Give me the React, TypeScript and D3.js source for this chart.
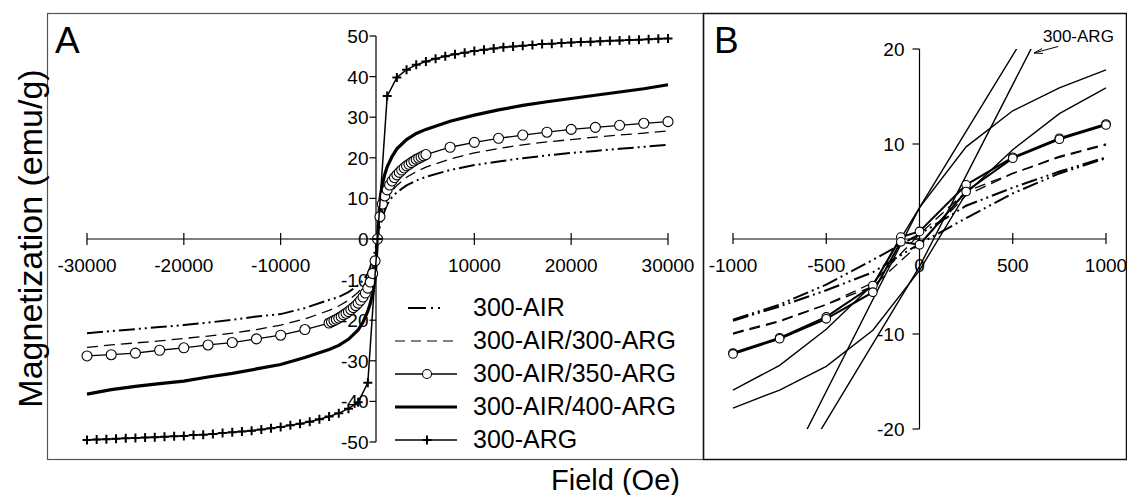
import React from 'react';
import * as d3 from 'd3';

// Panel A: full loop, -30000..30000 Oe
const FIELD_A = [-30000, -27500, -25000, -22500, -20000, -17500, -15000, -12500, -10000, -7500, -5000, -4000, -3000, -2000, -1500, -1000, -750, -500, -250, 0, 250, 500, 750, 1000, 1500, 2000, 3000, 4000, 5000, 7500, 10000, 12500, 15000, 17500, 20000, 22500, 25000, 27500, 30000];
const AIR_A = [-23.2, -22.7, -22.2, -21.7, -21.2, -20.6, -19.9, -19.1, -18.5, -17.0, -15.0, -14.3, -13.1, -11.4, -10.2, -8.5, -6.9, -5.0, -2.9, 0, 3.0, 5.0, 7.0, 8.5, 10.3, 11.5, 13.2, 14.4, 15.3, 17.0, 18.2, 19.1, 19.9, 20.6, 21.2, 21.7, 22.2, 22.7, 23.2];
const ARG300_A = [-26.7, -26.1, -25.6, -25.1, -24.5, -23.9, -23.2, -22.3, -21.2, -19.7, -17.6, -16.5, -15.1, -13.1, -11.7, -9.9, -8.6, -6.9, -4.9, 0, 4.9, 6.9, 8.6, 9.9, 11.8, 13.2, 15.2, 16.6, 17.7, 19.7, 21.2, 22.3, 23.2, 23.9, 24.5, 25.1, 25.6, 26.1, 26.6];
const ARG400_A = [-38.2, -37.1, -36.3, -35.6, -35.0, -34.0, -33.1, -32.0, -30.9, -29.2, -27.2, -26.2, -24.7, -22.4, -20.5, -17.8, -15.9, -13.5, -9.7, 0, 9.7, 13.5, 15.9, 17.8, 20.3, 22.2, 24.5, 26.0, 27.0, 29.0, 30.5, 31.8, 32.9, 33.8, 34.6, 35.4, 36.2, 37.0, 38.0];

const FIELD_A350 = [
  ...d3.range(-30000, -5000, 2500),
  ...d3.range(-5000, 5001, 250),
  ...d3.range(7500, 30001, 2500),
];
const ARG350_A = [
  -28.8, -28.5, -28.1, -27.4, -26.8, -26.1, -25.5, -24.6, -23.7, -22.3,
  -20.7, -20.4, -20.1, -19.8, -19.5, -19.1, -18.7, -18.3, -17.9, -17.4, -16.9, -16.4, -15.8, -15.1, -14.3, -13.3, -12.1, -10.6, -8.5, -5.4,
  0,
  5.5, 8.6, 10.6, 12.1, 13.3, 14.3, 15.1, 15.8, 16.4, 17.0, 17.5, 18.0, 18.4, 18.8, 19.2, 19.6, 19.9, 20.2, 20.5, 20.8,
  22.6, 23.8, 24.8, 25.6, 26.3, 27.0, 27.5, 28.0, 28.5, 28.9,
];

const FIELD_ARG_A = d3.range(-30000, 30001, 1000);
const ARG_A = [
  -49.5, -49.4, -49.3, -49.2, -49.1, -49.0, -48.9, -48.8, -48.7, -48.6, -48.5, -48.3, -48.2, -48.0, -47.8,
  -47.6, -47.4, -47.2, -46.9, -46.6, -46.3, -45.9, -45.5, -45.0, -44.4, -43.7, -42.9, -41.8, -40.2, -35.4,
  0,
  35.2, 39.8, 41.7, 42.9, 43.7, 44.4, 45.0, 45.5, 45.9, 46.3, 46.6, 46.9, 47.2, 47.4, 47.6,
  47.8, 48.0, 48.1, 48.3, 48.4, 48.5, 48.6, 48.7, 48.8, 48.9, 49.0, 49.1, 49.2, 49.3, 49.4,
];

// Panel B: low-field zoom, both branches
const FIELD_B = [-1000, -750, -500, -250, 0, 250, 500, 750, 1000];
const AIR_B_UP = [-8.5, -6.9, -4.8, -2.2, 0.5, 3.5, 5.4, 7.1, 8.6];
const AIR_B_DN = [-8.6, -7.1, -5.4, -3.5, -0.5, 2.2, 4.8, 6.9, 8.5];
const ARG300_B_UP = [-9.9, -8.6, -6.9, -4.6, 0.5, 5.0, 6.9, 8.7, 10.0];
const ARG300_B_DN = [-10.0, -8.7, -6.9, -5.0, -0.5, 4.6, 6.9, 8.6, 9.9];
const ARG400_B_UP = [-15.9, -13.3, -9.5, -4.8, 3.3, 9.7, 13.5, 15.9, 17.8];
const ARG400_B_DN = [-17.8, -15.9, -13.4, -9.6, -3.3, 4.8, 9.4, 13.2, 15.9];
const FIELD_B350 = [-1000, -750, -500, -250, -100, 0, 250, 500, 750, 1000];
const ARG350_B_UP = [-12.0, -10.4, -8.2, -4.9, 0.2, 0.8, 5.7, 8.6, 10.6, 12.1];
const ARG350_B_DN = [-12.1, -10.5, -8.4, -5.6, -0.3, -0.6, 5.0, 8.5, 10.5, 12.0];
const FIELD_B_ARG = [-1000, 0, 1000];
const ARG_B_UP = [-35.4, 3.3, 35.4];
const ARG_B_DN = [-35.4, -2.9, 35.4];

const X_TICKS_A = [-30000, -20000, -10000, 0, 10000, 20000, 30000];
const Y_TICKS_A = [50, 40, 30, 20, 10, 0, -10, -20, -30, -40, -50];
const X_TICKS_B = [-1000, -500, 0, 500, 1000];
const Y_TICKS_B = [20, 10, 0, -10, -20];

const LEGEND = ['300-AIR', '300-AIR/300-ARG', '300-AIR/350-ARG', '300-AIR/400-ARG', '300-ARG'];

const FONT = '"Liberation Sans", Arial, Helvetica, sans-serif';
const DASHDOT = '16,4,2,4,2,4';
const DASHED = '11,6';

const fx = d3.scaleLinear().domain([-30000, 30000]).range([87, 668]);
const fy = d3.scaleLinear().domain([-50, 50]).range([442, 36]);
const bx = d3.scaleLinear().domain([-1000, 1000]).range([733, 1106]);
const by = d3.scaleLinear().domain([-20, 20]).range([429, 49]);

const mkLine = (sx: any, sy: any) => (xs: number[], ys: number[]) =>
  d3.line()(xs.map((x, i) => [sx(x), sy(ys[i])] as [number, number])) || '';
const lineA = mkLine(fx, fy);
const lineB = mkLine(bx, by);

const PLUS = 'M-4.5,0H4.5M0,-4.5V4.5';

export default function App() {
  return (
    <svg width={1127} height={495} style={{ position: 'absolute', left: 0, top: 0, background: '#fff' }} fontFamily={FONT}>
      <defs>
        <clipPath id="clipB">
          <rect x={725} y={by(20)} width={390} height={by(-20) - by(20)} />
        </clipPath>
      </defs>
      <rect x={0} y={0} width={1127} height={495} fill="#fff" />

      {/* frames */}
      <rect x={47.5} y={13.5} width={656} height={446} fill="none" stroke="#555" strokeWidth={1.2} />
      <rect x={703.5} y={13.5} width={423} height={446} fill="none" stroke="#111" strokeWidth={1.5} />

      <text x={55} y={53} fontSize={37}>A</text>
      <text x={714} y={53} fontSize={37}>B</text>

      {/* ---- Panel A axes ---- */}
      <line x1={fx(-30000)} x2={fx(30000)} y1={fy(0)} y2={fy(0)} stroke="#000" strokeWidth={1.2} />
      <line x1={fx(0) - 1.5} x2={fx(0) - 1.5} y1={fy(50)} y2={fy(-50)} stroke="#000" strokeWidth={1.2} />
      {X_TICKS_A.map(t => (
        <g key={t}>
          <line x1={fx(t)} x2={fx(t)} y1={fy(0) - 6} y2={fy(0) + 6} stroke="#000" strokeWidth={1.2} />
          {t !== 0 && (
            <text x={fx(t)} y={272} fontSize={19} textAnchor="middle">{t}</text>
          )}
        </g>
      ))}
      {Y_TICKS_A.map(t => (
        <g key={t}>
          <line x1={fx(0) - 8} x2={fx(0) - 1.5} y1={fy(t)} y2={fy(t)} stroke="#000" strokeWidth={1.2} />
          <text x={fx(0) - 9} y={fy(t) + 7} fontSize={19} textAnchor="end">{t}</text>
        </g>
      ))}

      {/* ---- Panel A series ---- */}
      <path d={lineA(FIELD_A, AIR_A)} fill="none" stroke="#000" strokeWidth={2} strokeDasharray={DASHDOT} />
      <path d={lineA(FIELD_A, ARG300_A)} fill="none" stroke="#000" strokeWidth={1.3} strokeDasharray={DASHED} />
      <path d={lineA(FIELD_A, ARG400_A)} fill="none" stroke="#000" strokeWidth={3.2} />
      <path d={lineA(FIELD_A350, ARG350_A)} fill="none" stroke="#000" strokeWidth={1.3} />
      {FIELD_A350.map((f, i) => (
        <circle key={f} cx={fx(f)} cy={fy(ARG350_A[i])} r={5} fill="#fff" stroke="#000" strokeWidth={1.1} />
      ))}
      <path d={lineA(FIELD_ARG_A, ARG_A)} fill="none" stroke="#000" strokeWidth={1.5} />
      {FIELD_ARG_A.map((f, i) => (
        <path key={f} d={PLUS} transform={`translate(${fx(f)},${fy(ARG_A[i])})`} stroke="#000" strokeWidth={2} />
      ))}

      {/* ---- Legend ---- */}
      {LEGEND.map((name, i) => {
        const cy = 308 + i * 33;
        return (
          <g key={name}>
            {i === 0 && <line x1={408} x2={460} y1={cy} y2={cy} stroke="#000" strokeWidth={2.2} strokeDasharray="18,5,2,5,2,60" />}
            {i === 1 && <line x1={395} x2={457} y1={cy} y2={cy} stroke="#000" strokeWidth={1.2} strokeDasharray="10,6" />}
            {i === 2 && (
              <g>
                <line x1={395} x2={457} y1={cy} y2={cy} stroke="#000" strokeWidth={1.3} />
                <circle cx={427} cy={cy} r={4.5} fill="#fff" stroke="#000" strokeWidth={1.1} />
              </g>
            )}
            {i === 3 && <line x1={395} x2={457} y1={cy} y2={cy} stroke="#000" strokeWidth={3.2} />}
            {i === 4 && (
              <g>
                <line x1={395} x2={457} y1={cy} y2={cy} stroke="#000" strokeWidth={1.3} />
                <path d={PLUS} transform={`translate(427,${cy})`} stroke="#000" strokeWidth={2} />
              </g>
            )}
            <text x={473} y={cy + 8} fontSize={25}>{name}</text>
          </g>
        );
      })}

      {/* ---- Panel B axes ---- */}
      <line x1={bx(-1000)} x2={bx(1000)} y1={by(0)} y2={by(0)} stroke="#000" strokeWidth={1.2} />
      <line x1={bx(0)} x2={bx(0)} y1={by(20)} y2={by(-20)} stroke="#000" strokeWidth={1.2} />
      {X_TICKS_B.map(t => (
        <g key={t}>
          <line x1={bx(t)} x2={bx(t)} y1={by(0) - 6} y2={by(0) + 5} stroke="#000" strokeWidth={1.2} />
          <text x={bx(t)} y={272} fontSize={19} textAnchor="middle">{t}</text>
        </g>
      ))}
      {Y_TICKS_B.map(t => (
        <g key={t}>
          <line x1={bx(0) - 7} x2={bx(0)} y1={by(t)} y2={by(t)} stroke="#000" strokeWidth={1.2} />
          {t !== 0 && <text x={bx(0) - 15} y={by(t) + 7} fontSize={19} textAnchor="end">{t}</text>}
        </g>
      ))}

      {/* ---- Panel B series ---- */}
      <g clipPath="url(#clipB)" fill="none" stroke="#000">
        <path d={lineB(FIELD_B, AIR_B_UP)} strokeWidth={2} strokeDasharray={DASHDOT} />
        <path d={lineB(FIELD_B, AIR_B_DN)} strokeWidth={2} strokeDasharray={DASHDOT} />
        <path d={lineB(FIELD_B, ARG300_B_UP)} strokeWidth={1.3} strokeDasharray={DASHED} />
        <path d={lineB(FIELD_B, ARG300_B_DN)} strokeWidth={1.3} strokeDasharray={DASHED} />
        <path d={lineB(FIELD_B, ARG400_B_UP)} strokeWidth={1.4} />
        <path d={lineB(FIELD_B, ARG400_B_DN)} strokeWidth={1.4} />
        <path d={lineB(FIELD_B_ARG, ARG_B_UP)} strokeWidth={1.4} />
        <path d={lineB(FIELD_B_ARG, ARG_B_DN)} strokeWidth={1.4} />
        <path d={lineB(FIELD_B350, ARG350_B_UP)} strokeWidth={2} />
        <path d={lineB(FIELD_B350, ARG350_B_DN)} strokeWidth={2} />
      </g>
      {FIELD_B350.map((f, i) => (
        <g key={f}>
          <circle cx={bx(f)} cy={by(ARG350_B_UP[i])} r={4.3} fill="#fff" stroke="#000" strokeWidth={1.1} />
          <circle cx={bx(f)} cy={by(ARG350_B_DN[i])} r={4.3} fill="#fff" stroke="#000" strokeWidth={1.1} />
        </g>
      ))}

      {/* annotation */}
      <text x={1043} y={42} fontSize={17}>300-ARG</text>
      <g stroke="#000" strokeWidth={1} fill="none">
        <line x1={1058} y1={46.5} x2={1034} y2={53} />
        <polyline points="1042,48.5 1034,53 1043,53.5" />
      </g>

      {/* axis titles */}
      <text x={615.5} y={490} fontSize={29} textAnchor="middle">Field (Oe)</text>
      <text transform="translate(41.5,238.5) rotate(-90)" fontSize={34} textAnchor="middle">Magnetization (emu/g)</text>
    </svg>
  );
}
